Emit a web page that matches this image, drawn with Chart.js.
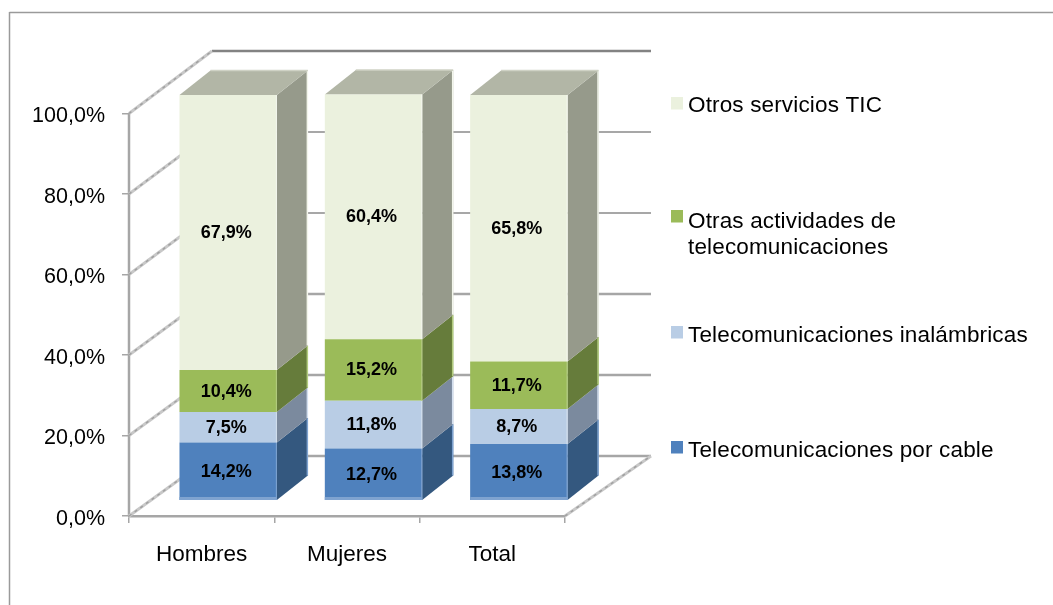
<!DOCTYPE html>
<html>
<head>
<meta charset="utf-8">
<style>
  html, body { margin: 0; padding: 0; background: #fff; overflow: hidden; }
  canvas { display: block; }
</style>
<script src="https://cdn.jsdelivr.net/npm/chart.js@4/dist/chart.umd.js"></script>
</head>
<body>
<canvas id="chart" width="1053" height="605"></canvas>
<script>
const categories = ['Hombres', 'Mujeres', 'Total'];
const porCable = [14.2, 12.7, 13.8];
const inalambricas = [7.5, 11.8, 8.7];
const otrasActividades = [10.4, 15.2, 11.7];
const otrosServicios = [67.9, 60.4, 65.8];
const yTicks = [0, 20, 40, 60, 80, 100];

const FONT = '"Liberation Sans", Arial, sans-serif';
const BAR_SHIFT = 26.5;       // the bars sit further back than the axis labels
const BAR_DEPTH = { x: 31, y: 24.5 };
const WALL_DEPTH = { x: 83, y: 44 };
const FLOOR_DEPTH_X = 86;

const comma = v => v.toFixed(1).replace('.', ',') + '%';

const series = [
  { label: 'Telecomunicaciones por cable', data: porCable, front: '#4f81bd', side: '#34587f', edge: '#7fa3d0' },
  { label: 'Telecomunicaciones inalámbricas', data: inalambricas, front: '#b9cde5', side: '#7b8a9e', edge: '#d3dfee' },
  { label: 'Otras actividades de telecomunicaciones', data: otrasActividades, front: '#9bbb59', side: '#667c3b', edge: '#b3cc80' },
  { label: 'Otros servicios TIC', data: otrosServicios, front: '#ebf1de', side: '#969a8b', edge: '#f3f6ec' }
];

const legendRows = [
  { i: 3, lines: ['Otros servicios TIC'], box: 97, y: 106 },
  { i: 2, lines: ['Otras actividades de', 'telecomunicaciones'], box: 210, y: 222 },
  { i: 1, lines: ['Telecomunicaciones inalámbricas'], box: 326, y: 336 },
  { i: 0, lines: ['Telecomunicaciones por cable'], box: 441, y: 451 }
];

function line(ctx, x1, y1, x2, y2, color, width, dash) {
  ctx.save();
  ctx.strokeStyle = color;
  ctx.lineWidth = width;
  ctx.setLineDash(dash || []);
  ctx.beginPath();
  ctx.moveTo(x1, y1);
  ctx.lineTo(x2, y2);
  ctx.stroke();
  ctx.restore();
}

function poly(ctx, pts, color) {
  ctx.fillStyle = color;
  ctx.beginPath();
  pts.forEach((p, i) => i ? ctx.lineTo(p[0], p[1]) : ctx.moveTo(p[0], p[1]));
  ctx.closePath();
  ctx.fill();
}

function diagonal(ctx, x1, y1, x2, y2) {
  line(ctx, x1, y1, x2, y2, '#c8c8c8', 3);
  line(ctx, x1, y1, x2, y2, '#a0a0a0', 1.5, [3, 4]);
}

const frame3d = {
  id: 'frame3d',
  beforeDraw(chart) {
    const ctx = chart.ctx;
    line(ctx, 9.5, 12.5, 1053, 12.5, '#9a9a9a', 1.5);
    line(ctx, 9.5, 12, 9.5, 605, '#9a9a9a', 1.5);
  },
  beforeDatasetsDraw(chart) {
    const { ctx, scales } = chart;
    const { x, y, yBars } = scales;

    line(ctx, x.left, y.getPixelForValue(100), x.left, y.getPixelForValue(0), '#a6a6a6', 2.5);

    // back wall gridlines and the diagonals running to the front axis
    yTicks.forEach(v => {
      const wy = yBars.getPixelForValue(v) - WALL_DEPTH.y;
      const top = v === 100;
      const upper = v >= 60;
      line(ctx, x.left + WALL_DEPTH.x, wy, x.right + FLOOR_DEPTH_X, wy,
        top ? '#838383' : upper ? '#8a8a8a' : '#a6a6a6', top ? 2.5 : upper ? 1.5 : 2.5);
      diagonal(ctx, x.left, y.getPixelForValue(v), x.left + WALL_DEPTH.x, wy);
    });
    diagonal(ctx, x.right, y.getPixelForValue(0), x.right + FLOOR_DEPTH_X, yBars.getPixelForValue(0) - WALL_DEPTH.y);

    // side and top faces taken from the bar elements
    const last = series.length - 1;
    series.forEach((s, di) => {
      chart.getDatasetMeta(di).data.forEach(bar => {
        const r = bar.x + bar.width / 2 + BAR_SHIFT;
        const l = bar.x - bar.width / 2 + BAR_SHIFT;
        poly(ctx, [[r, bar.y], [r + BAR_DEPTH.x, bar.y - BAR_DEPTH.y],
          [r + BAR_DEPTH.x, bar.base - BAR_DEPTH.y], [r, bar.base]], s.side);
        line(ctx, r + BAR_DEPTH.x - 0.5, bar.y - BAR_DEPTH.y, r + BAR_DEPTH.x - 0.5, bar.base - BAR_DEPTH.y, s.edge, 1.5);
        if (di === last) {
          poly(ctx, [[l, bar.y], [l + BAR_DEPTH.x, bar.y - BAR_DEPTH.y],
            [r + BAR_DEPTH.x, bar.y - BAR_DEPTH.y], [r, bar.y]], '#b2b6a6');
          line(ctx, l + BAR_DEPTH.x, bar.y - BAR_DEPTH.y, r + BAR_DEPTH.x, bar.y - BAR_DEPTH.y, '#cfd2c5', 1.5);
        }
      });
    });

    ctx.save();
    ctx.translate(BAR_SHIFT, 0);
  },
  afterDatasetsDraw(chart) {
    const ctx = chart.ctx;
    // lighter rim along the front of each block, stronger at the foot
    series.forEach((s, di) => {
      chart.getDatasetMeta(di).data.forEach(bar => {
        const l = bar.x - bar.width / 2, r = bar.x + bar.width / 2;
        line(ctx, r - 0.5, bar.y, r - 0.5, bar.base, s.edge, 1);
        if (di === 0) line(ctx, l, bar.base - 1.5, r, bar.base - 1.5, s.edge, 3);
      });
    });
    // value labels
    ctx.font = 'bold 18px ' + FONT;
    ctx.fillStyle = '#000';
    ctx.textAlign = 'center';
    ctx.textBaseline = 'middle';
    series.forEach((s, di) => {
      chart.getDatasetMeta(di).data.forEach((bar, i) => {
        ctx.fillText(comma(s.data[i]), bar.x - 2, (bar.y + bar.base) / 2 + 0.5);
      });
    });
    ctx.restore();
  },
  afterDraw(chart) {
    const ctx = chart.ctx;
    ctx.save();
    ctx.font = '22.5px ' + FONT;
    ctx.letterSpacing = '0.15px';
    ctx.textAlign = 'left';
    ctx.textBaseline = 'middle';
    legendRows.forEach(row => {
      ctx.fillStyle = series[row.i].front;
      ctx.fillRect(671, row.box, 12, 12.5);
      ctx.fillStyle = '#000';
      row.lines.forEach((t, k) => ctx.fillText(t, 688, row.y + k * 26));
    });
    ctx.restore();
  }
};

new Chart(document.getElementById('chart').getContext('2d'), {
  type: 'bar',
  data: {
    labels: categories,
    datasets: series.map(s => ({
      label: s.label,
      data: s.data,
      backgroundColor: s.front,
      yAxisID: 'yBars',
      clip: false,
      barPercentage: 0.67,
      categoryPercentage: 1
    }))
  },
  options: {
    responsive: false,
    animation: false,
    layout: { padding: { top: 95, right: 488, left: 0, bottom: 0 } },
    plugins: { legend: { display: false }, tooltip: { enabled: false } },
    scales: {
      x: {
        stacked: true,
        grid: { drawOnChartArea: false, tickLength: 7, color: '#a6a6a6', lineWidth: 1.5 },
        border: { color: '#a6a6a6', width: 2.5 },
        ticks: { color: '#000', padding: 18, maxRotation: 0, font: { family: FONT, size: 22.5 } },
        afterFit(scale) { scale.height = 89; }
      },
      y: {
        position: 'left',
        min: 0,
        max: 104.6,
        grid: { drawOnChartArea: false, tickLength: 7, color: '#a6a6a6', lineWidth: 1.5 },
        border: { display: false },
        ticks: {
          color: '#000',
          padding: 17,
          labelOffset: 3,
          stepSize: 20,
          includeBounds: false,
          font: { family: FONT, size: 21.5 },
          callback: v => comma(v)
        },
        afterFit(scale) { scale.width = 129; }
      },
      yBars: {
        display: false,
        stacked: true,
        min: -3.95,
        max: 100
      }
    }
  },
  plugins: [frame3d]
});
</script>
</body>
</html>
